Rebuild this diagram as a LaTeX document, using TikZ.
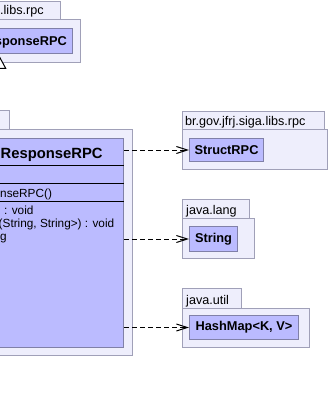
\documentclass[tikz,border=0pt]{standalone}
\usepackage{fontspec}
\setmainfont{Liberation Sans}
\usetikzlibrary{arrows.meta}
\definecolor{pkgfill}{RGB}{238,238,252}
\definecolor{pkgline}{RGB}{160,160,184}
\definecolor{clsfill}{RGB}{187,187,255}
\definecolor{clsline}{RGB}{128,128,168}
\tikzset{
  pkg/.style={draw=pkgline, fill=pkgfill, line width=1pt},
  cls/.style={draw=clsline, fill=clsfill, line width=1pt, inner sep=0pt,
    font=\fontsize{12.8}{14}\selectfont\bfseries},
  clsname/.style={inner sep=0pt, font=\fontsize{12.8}{14}\selectfont\bfseries},
  title/.style={anchor=base west, inner sep=0pt, font=\fontsize{14.8}{16}\selectfont\bfseries},
  pkglabel/.style={anchor=base west, inner sep=0pt, font=\fontsize{12.6}{14}\selectfont},
  member/.style={anchor=base west, inner sep=0pt, font=\fontsize{11.8}{14}\selectfont},
  sep/.style={draw=black, line width=1pt},
  dep/.style={dash pattern=on 5pt off 3pt, line width=1pt,
    -{Straight Barb[length=11pt,width=7pt,line width=1pt]}},
  gen/.style={line width=1pt, -{Triangle[length=15pt,width=16pt,fill=white,line width=1pt]}}
}
\begin{document}
\begin{tikzpicture}[x=1pt,y=-1pt]
\useasboundingbox (0,0) rectangle (329,393);
\clip (0,0) rectangle (329,393);
\fill[white] (0,0) rectangle (329,393);

% package of the superclass (top left)
\draw[pkg] (-100,2) rectangle (60,20);
\draw[pkg] (-100,20) rectangle (80,63);
\node[pkglabel] (toplbl) at (0,15) {.libs.rpc};
\node[cls, anchor=north east, minimum width=148pt, minimum height=25pt] (topcls) at (73,28) {};
\node[clsname, anchor=base east] (topname) at (67,45.5) {sponseRPC};

% package of the main class
\draw[pkg] (-140,111) rectangle (9,129);
\draw[pkg] (-140,129) rectangle (132,355);
\node[cls, anchor=north east, minimum width=250pt, minimum height=209pt] (maincls) at (124,138) {};
\draw[sep] (-126,165) -- (124,165);
\draw[sep] (-126,183) -- (124,183);
\draw[sep] (-126,201) -- (124,201);
\node[title] (maintitle) at (0.5,158.5) {ResponseRPC};
\node[member] (ctor) at (0,197) {nseRPC()};
\node[member] (m1) at (4,214) {: void};
\node[member] (m2) at (-1.5,227) {(String, String>) : void};
\node[member] (m3) at (0,240) {g};

% br.gov.jfrj.siga.libs.rpc
\draw[pkg] (182,112) rectangle (324,129);
\draw[pkg] (182,129) rectangle (327,169);
\node[pkglabel] (lbl1) at (185,125) {br.gov.jfrj.siga.libs.rpc};
\node[cls, anchor=north west, minimum width=74pt, minimum height=23pt] (struct) at (189,138) {StructRPC};

% java.lang
\draw[pkg] (182,199) rectangle (249,218);
\draw[pkg] (182,218) rectangle (254,258);
\node[pkglabel] (lbl2) at (186,214) {java.lang};
\node[cls, anchor=north west, minimum width=48pt, minimum height=25pt] (string) at (189,226) {String};

% java.util
\draw[pkg] (182,288) rectangle (241,308);
\draw[pkg] (182,308) rectangle (309,347);
\node[pkglabel] (lbl3) at (186,304) {java.util};
\node[cls, anchor=north west, minimum width=109pt, minimum height=24pt] (hashmap) at (189,315) {HashMap<K, V>};

% dependencies
\draw[dep] (maincls.east |- struct.west) -- (struct.west);
\draw[dep] (maincls.east |- string.west) -- (string.west);
\draw[dep] (maincls.east |- hashmap.west) -- (hashmap.west);

% generalization
\draw[gen] (maincls.north) -- (topcls.south);
\end{tikzpicture}
\end{document}
